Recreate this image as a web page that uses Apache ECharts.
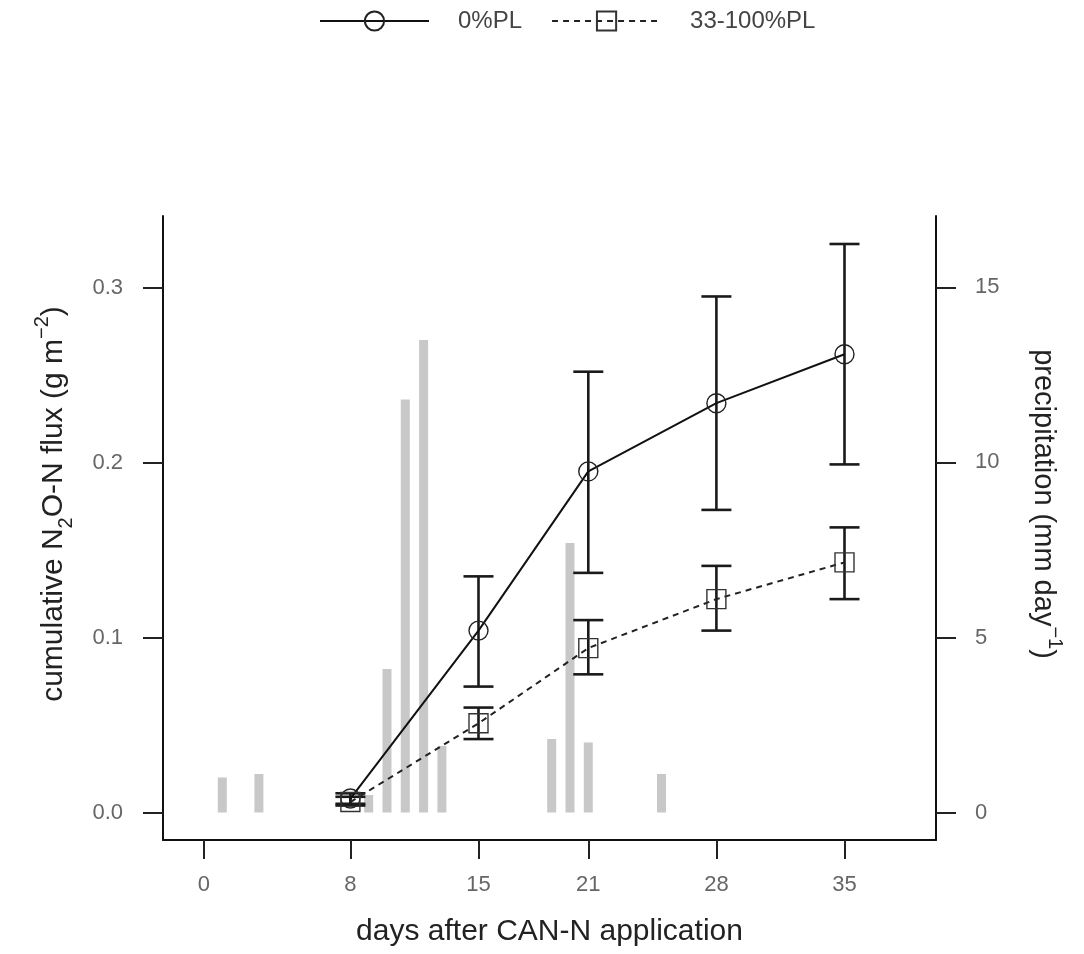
<!DOCTYPE html>
<html>
<head>
<meta charset="utf-8">
<script src="https://cdn.jsdelivr.net/npm/echarts@6/dist/echarts.min.js"></script>
<style>
  html, body { margin: 0; padding: 0; background: #fff; }
  #main { width: 1084px; height: 954px; }
</style>
</head>
<body>
<div id="main"></div>
<script>
// sampling days
var days = [8, 15, 21, 28, 35]
// 0%PL cumulative flux (g m-2) with error bar limits
var pl0Mean = [0.008, 0.104, 0.195, 0.234, 0.262]
var pl0Lo = [0.005, 0.072, 0.137, 0.173, 0.199]
var pl0Hi = [0.011, 0.135, 0.252, 0.295, 0.325]
// 33-100%PL
var pl33Mean = [0.006, 0.051, 0.094, 0.122, 0.143]
var pl33Lo = [0.004, 0.042, 0.079, 0.104, 0.122]
var pl33Hi = [0.009, 0.060, 0.110, 0.141, 0.163]
// daily precipitation (mm day-1)
var rainDays = [1, 3, 9, 10, 11, 12, 13, 19, 20, 21, 25]
var rainMm = [1.0, 1.1, 0.5, 4.1, 11.8, 13.5, 1.9, 2.1, 7.7, 2.0, 1.1]
// tick labels
var xTicks = [0, 8, 15, 21, 28, 35]
var yTicks = [0, 0.1, 0.2, 0.3]
var y2Ticks = [0, 5, 10, 15]

var FONT = "'Liberation Sans', Arial, sans-serif"

function pairs(xs, ys) {
  return xs.map(function (x, i) { return [x, ys[i]] })
}
function triples(xs, lo, hi) {
  return xs.map(function (x, i) { return [x, lo[i], hi[i]] })
}

// error bars drawn through the axes' coord system
function errorBars(params, api) {
  var x = api.value(0)
  var pLo = api.coord([x, api.value(1)])
  var pHi = api.coord([x, api.value(2)])
  var w = 15
  var st = { stroke: '#1a1a1a', lineWidth: 2.6 }
  return {
    type: 'group',
    children: [
      { type: 'line', shape: { x1: pLo[0], y1: pLo[1], x2: pHi[0], y2: pHi[1] }, style: st },
      { type: 'line', shape: { x1: pLo[0] - w, y1: pLo[1], x2: pLo[0] + w, y2: pLo[1] }, style: st },
      { type: 'line', shape: { x1: pHi[0] - w, y1: pHi[1], x2: pHi[0] + w, y2: pHi[1] }, style: st }
    ]
  }
}

var nameRich = {
  sub: { fontSize: 20, lineHeight: 20, verticalAlign: 'bottom', fontFamily: FONT, color: '#222' },
  sup: { fontSize: 20, lineHeight: 20, verticalAlign: 'top', fontFamily: FONT, color: '#222' }
}

var chart = echarts.init(document.getElementById('main'), null, { renderer: 'canvas' })

var option = {
  animation: false,
  backgroundColor: '#fff',
  legend: {
    top: 4,
    left: 314,
    itemWidth: 109,
    itemHeight: 24,
    itemGap: 29,
    textStyle: { fontSize: 24, color: '#444', fontFamily: FONT, padding: [0, 0, 0, 24] },
    data: ['0%PL', '33-100%PL']
  },
  grid: { left: 163, right: 148, top: 216, bottom: 114, containLabel: false },
  xAxis: {
    type: 'value',
    min: -2.24,
    max: 40,
    splitLine: { show: false },
    axisLine: { onZero: false, lineStyle: { color: '#111', width: 2 } },
    axisTick: { customValues: xTicks, length: 19, lineStyle: { color: '#222', width: 2 } },
    axisLabel: { customValues: xTicks, margin: 34, fontSize: 22, color: '#666', fontFamily: FONT },
    name: 'days after CAN-N application',
    nameLocation: 'middle',
    nameGap: 77,
    nameTextStyle: { fontSize: 30, color: '#222', fontFamily: FONT }
  },
  yAxis: [{
    type: 'value',
    min: -0.0157,
    max: 0.341,
    splitLine: { show: false },
    axisLine: { show: true, onZero: false, lineStyle: { color: '#111', width: 2 } },
    axisTick: { customValues: yTicks, length: 20, lineStyle: { color: '#222', width: 2 } },
    axisLabel: {
      customValues: yTicks, margin: 40, fontSize: 22, color: '#666', fontFamily: FONT,
      formatter: function (v) { return v.toFixed(1) }
    },
    name: 'cumulative N{sub|2}O-N flux (g m{sup|−2})',
    nameLocation: 'middle',
    nameGap: 87,
    nameTextStyle: {
      fontSize: 30, lineHeight: 44, color: '#222', fontFamily: FONT, rich: nameRich,
      padding: [0, 0, 0, 48]
    }
  }, {
    type: 'value',
    position: 'right',
    min: -0.786,
    max: 17.04,
    splitLine: { show: false },
    axisLine: { show: true, onZero: false, lineStyle: { color: '#111', width: 2 } },
    axisTick: { customValues: y2Ticks, length: 20, lineStyle: { color: '#222', width: 2 } },
    axisLabel: { customValues: y2Ticks, margin: 39, fontSize: 22, color: '#666', fontFamily: FONT },
    name: 'precipitation (mm day{sup|−1})',
    nameLocation: 'middle',
    nameRotate: -90,
    nameGap: 85,
    nameTextStyle: {
      fontSize: 29, lineHeight: 44, color: '#222', fontFamily: FONT, rich: nameRich,
      padding: [0, 48, 0, 0]
    }
  }],
  series: [{
    name: 'precipitation',
    type: 'bar',
    yAxisIndex: 1,
    barWidth: 9,
    z: 1,
    itemStyle: { color: '#c8c8c8' },
    data: pairs(rainDays, rainMm)
  }, {
    name: 'err0',
    type: 'custom',
    z: 3,
    renderItem: errorBars,
    encode: { x: 0, y: [1, 2] },
    data: triples(days, pl0Lo, pl0Hi)
  }, {
    name: 'err33',
    type: 'custom',
    z: 3,
    renderItem: errorBars,
    encode: { x: 0, y: [1, 2] },
    data: triples(days, pl33Lo, pl33Hi)
  }, {
    name: '0%PL',
    type: 'line',
    z: 4,
    symbol: 'circle',
    symbolSize: 19,
    lineStyle: { color: '#111', width: 2 },
    itemStyle: { color: 'rgba(0,0,0,0)', borderColor: '#222', borderWidth: 1.4 },
    emphasis: { disabled: true },
    data: pairs(days, pl0Mean)
  }, {
    name: '33-100%PL',
    type: 'line',
    z: 4,
    symbol: 'rect',
    symbolSize: 19,
    lineStyle: { color: '#222', width: 2, type: [6, 5] },
    itemStyle: { color: 'rgba(0,0,0,0)', borderColor: '#333', borderWidth: 1.4 },
    emphasis: { disabled: true },
    data: pairs(days, pl33Mean)
  }]
}

chart.setOption(option)
</script>
</body>
</html>
